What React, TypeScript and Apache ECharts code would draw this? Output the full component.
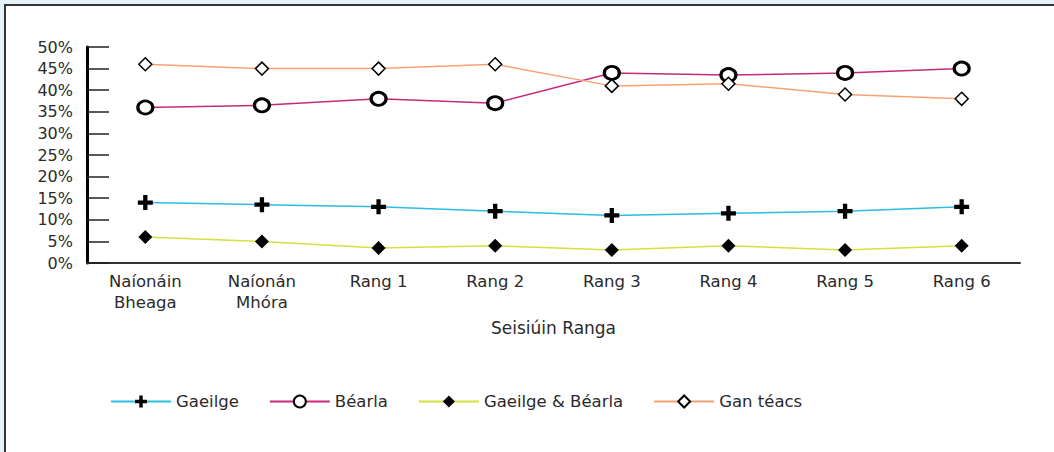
import React, { useEffect, useRef } from "react";
import * as echarts from "echarts";

const categories = ["Naíonáin\nBheaga", "Naíonán\nMhóra", "Rang 1", "Rang 2", "Rang 3", "Rang 4", "Rang 5", "Rang 6"];
const gaeilge = [14, 13.5, 13, 12, 11, 11.5, 12, 13];
const bearla = [36, 36.5, 38, 37, 44, 43.5, 44, 45];
const gaeilgeBearla = [6, 5, 3.5, 4, 3, 4, 3, 4];
const ganTeacs = [46, 45, 45, 46, 41, 41.5, 39, 38];
const yTicks = { min: 0, max: 50, interval: 5 };
const xAxisName = "Seisiúin Ranga";

const FONT = "DejaVu Sans";
const TEXT = "#2a2a2a";
const PLUS = "path://M5,0h4v5h5v4h-5v5h-4v-5h-5v-4h5z";

export default function App() {
  const ref = useRef<HTMLDivElement>(null);
  useEffect(() => {
    if (!ref.current) return;
    const chart = echarts.init(ref.current, undefined, { renderer: "svg" });
    const mk = (name: string, data: number[], color: string, symbol: string, size: any, fill: string, bw: number) => ({
      name,
      type: "line",
      data,
      symbol,
      symbolSize: size,
      showSymbol: true,
      lineStyle: { color, width: 1.5 },
      itemStyle: { color: fill, borderColor: "#000", borderWidth: bw },
      emphasis: { disabled: true },
      z: 2,
    });
    chart.setOption({
      animation: false,
      textStyle: { fontFamily: FONT },
      grid: { left: 87, right: 34, top: 47, bottom: 189 },
      legend: {
        left: 105,
        top: 388,
        itemWidth: 60,
        itemHeight: 15,
        itemGap: 30,
        textStyle: { fontFamily: FONT, fontSize: 16.5, color: TEXT },
        data: ["Gaeilge", "Béarla", "Gaeilge & Béarla", "Gan téacs"],
      },
      xAxis: {
        type: "category",
        data: categories,
        boundaryGap: true,
        name: xAxisName,
        nameLocation: "middle",
        nameGap: 56,
        nameTextStyle: { fontFamily: FONT, fontSize: 17, color: TEXT },
        axisLine: { lineStyle: { color: "#333", width: 2 } },
        axisTick: { inside: true, length: 4, lineStyle: { color: "#333", width: 2 } },
        axisLabel: { fontFamily: FONT, fontSize: 16.5, color: TEXT, margin: 8, lineHeight: 21 },
        splitLine: { show: false },
      },
      yAxis: {
        type: "value",
        min: yTicks.min,
        max: yTicks.max,
        interval: yTicks.interval,
        axisLine: { show: true, lineStyle: { color: "#000", width: 3 } },
        axisTick: { show: true, inside: true, length: 22, lineStyle: { color: "#222", width: 1.5 } },
        axisLabel: { fontFamily: FONT, fontSize: 16, color: TEXT, margin: 14, formatter: "{value}%" },
        splitLine: { show: false },
      },
      series: [
        mk("Gaeilge", gaeilge, "#2bbde3", PLUS, 15, "#000", 0),
        mk("Béarla", bearla, "#c8287a", "circle", [15, 13], "#fff", 3),
        mk("Gaeilge & Béarla", gaeilgeBearla, "#d5e03c", "diamond", 14, "#000", 0),
        mk("Gan téacs", ganTeacs, "#f8a274", "diamond", 13, "#fff", 1.5),
      ],
    });
    return () => chart.dispose();
  }, []);
  return (
    <div style={{ position: "fixed", left: 0, top: 0, width: 1054, height: 452, background: "#e4f3f9", overflow: "hidden" }}>
      <div
        style={{
          position: "absolute",
          left: 4,
          top: 4,
          width: 1100,
          height: 500,
          background: "#fff",
          borderTop: "2px solid #333",
          borderLeft: "2px solid #333",
        }}
      />
      <div ref={ref} style={{ position: "absolute", left: 0, top: 0, width: 1054, height: 452 }} />
    </div>
  );
}
